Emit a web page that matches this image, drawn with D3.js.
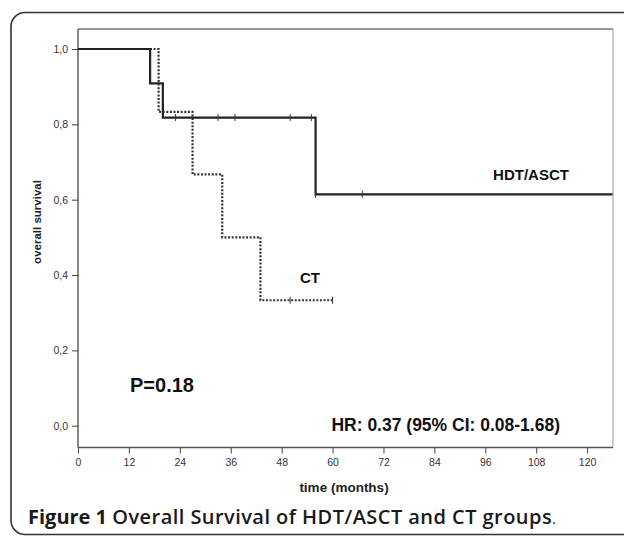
<!DOCTYPE html>
<html>
<head>
<meta charset="utf-8">
<script src="https://cdn.jsdelivr.net/npm/d3@7"></script>
<style>
  body { margin: 0; background: #fff; }
  svg { display: block; }
  .tick text { font-family: "Liberation Sans", Arial, sans-serif; font-size: 10.5px; fill: #333; }
  .tick line { stroke: #444; }
</style>
</head>
<body>
<div id="chart"></div>
<script>
// KM step points (time in months, survival)
var hdtTimes = [0, 17, 20, 56, 126];
var hdtSurv  = [1, 0.909, 0.818, 0.614, 0.614];
var hdtCensor = [23, 33, 37, 50, 55, 56, 67];

var ctTimes = [0, 19, 27, 34, 43, 60];
var ctSurv  = [1, 0.833, 0.667, 0.5, 0.333, 0.333];
var ctCensor = [50, 60];

var xTicks = [0, 12, 24, 36, 48, 60, 72, 84, 96, 108, 120];
var yTicks = [0, 0.2, 0.4, 0.6, 0.8, 1.0];

var W = 624, H = 536;
var frame = {left: 78, top: 29, right: 613, bottom: 447.5};

var svg = d3.select("#chart").append("svg")
    .attr("width", W)
    .attr("height", H);

// outer rounded box
svg.append("rect")
    .attr("x", 11).attr("y", 12.5)
    .attr("width", 660).attr("height", 522)
    .attr("rx", 14).attr("ry", 14)
    .attr("fill", "none")
    .attr("stroke", "#333")
    .attr("stroke-width", 1.6);

var x = d3.scaleLinear()
    .domain([0, 126.1])
    .range([frame.left, frame.right]);

var y = d3.scaleLinear()
    .domain([0, 1])
    .range([425.7, 49]);

// frame
svg.append("line")
    .attr("x1", frame.left).attr("x2", frame.right)
    .attr("y1", frame.top).attr("y2", frame.top)
    .attr("stroke", "#333").attr("stroke-width", 1.2);
svg.append("line")
    .attr("x1", frame.right).attr("x2", frame.right)
    .attr("y1", frame.top).attr("y2", frame.bottom)
    .attr("stroke", "#aaa").attr("stroke-width", 1.2);
svg.append("line")
    .attr("x1", frame.left).attr("x2", frame.left)
    .attr("y1", frame.top).attr("y2", frame.bottom)
    .attr("stroke", "#555").attr("stroke-width", 1.4);
svg.append("line")
    .attr("x1", frame.left).attr("x2", frame.right)
    .attr("y1", frame.bottom).attr("y2", frame.bottom)
    .attr("stroke", "#555").attr("stroke-width", 1.4);

// axes
var xAxis = svg.append("g")
    .attr("transform", "translate(0," + frame.bottom + ")")
    .call(d3.axisBottom(x).tickValues(xTicks).tickSize(6).tickSizeOuter(0).tickPadding(5));
xAxis.select(".domain").remove();

var yAxis = svg.append("g")
    .attr("transform", "translate(" + frame.left + ",0)")
    .call(d3.axisLeft(y).tickValues(yTicks).tickSize(6).tickSizeOuter(0).tickPadding(4)
      .tickFormat(function(d){ return d.toFixed(1).replace(".", ","); }));
yAxis.select(".domain").remove();

// axis titles
svg.append("text")
    .attr("x", 344).attr("y", 492)
    .attr("text-anchor", "middle")
    .style("font-family", "Liberation Sans, Arial, sans-serif")
    .style("font-weight", "bold").style("font-size", "13.5px")
    .attr("fill", "#222")
    .text("time (months)");

svg.append("text")
    .attr("transform", "translate(41,222) rotate(-90)")
    .attr("text-anchor", "middle")
    .style("font-family", "Liberation Sans, Arial, sans-serif")
    .style("font-weight", "bold").style("font-size", "11.5px")
    .attr("fill", "#222")
    .text("overall survival");

// curves
var line = d3.line()
    .x(function(d){ return x(d[0]); })
    .y(function(d){ return y(d[1]); })
    .curve(d3.curveStepAfter);

var hdtData = hdtTimes.map(function(t, i){ return [t, hdtSurv[i]]; });
var ctData = ctTimes.map(function(t, i){ return [t, ctSurv[i]]; });

function survAt(times, surv, t){
  var s = surv[0];
  times.forEach(function(tt, i){ if (tt <= t) s = surv[i]; });
  return s;
}

svg.append("path")
    .datum(ctData)
    .attr("d", line)
    .attr("fill", "none")
    .attr("stroke", "#333")
    .attr("stroke-width", 2.2)
    .attr("stroke-dasharray", "2,1.6");

svg.append("path")
    .datum(hdtData)
    .attr("d", line)
    .attr("fill", "none")
    .attr("stroke", "#222")
    .attr("stroke-width", 2.2);

// censor marks
svg.selectAll(".cens-hdt")
    .data(hdtCensor)
  .enter().append("line")
    .attr("class", "cens-hdt")
    .attr("x1", function(d){ return x(d); }).attr("x2", function(d){ return x(d); })
    .attr("y1", function(d){ return y(survAt(hdtTimes, hdtSurv, d)) - 3.5; })
    .attr("y2", function(d){ return y(survAt(hdtTimes, hdtSurv, d)) + 3.5; })
    .attr("stroke", "#333").attr("stroke-width", 1);

svg.selectAll(".cens-ct")
    .data(ctCensor)
  .enter().append("line")
    .attr("class", "cens-ct")
    .attr("x1", function(d){ return x(d); }).attr("x2", function(d){ return x(d); })
    .attr("y1", function(d){ return y(survAt(ctTimes, ctSurv, d)) - 3.5; })
    .attr("y2", function(d){ return y(survAt(ctTimes, ctSurv, d)) + 3.5; })
    .attr("stroke", "#333").attr("stroke-width", 1);

// annotations
var boldTxt = function(sel){
  return sel.style("font-family", "Liberation Sans, Arial, sans-serif")
    .style("font-weight", "bold").attr("fill", "#111");
};

svg.append("text").call(boldTxt)
    .attr("x", 531).attr("y", 179.5)
    .attr("text-anchor", "middle")
    .style("font-size", "15px")
    .text("HDT/ASCT");

svg.append("text").call(boldTxt)
    .attr("x", 310).attr("y", 283)
    .attr("text-anchor", "middle")
    .style("font-size", "15px")
    .text("CT");

svg.append("text").call(boldTxt)
    .attr("x", 130).attr("y", 392)
    .style("font-size", "20px")
    .text("P=0.18");

svg.append("text").call(boldTxt)
    .attr("x", 560).attr("y", 431)
    .attr("text-anchor", "end")
    .style("font-size", "17.5px")
    .text("HR: 0.37 (95% CI: 0.08-1.68)");

// caption
var cap = svg.append("text")
    .attr("x", 28).attr("y", 524)
    .style("font-family", "Open Sans, sans-serif")
    .style("font-size", "20px")
    .attr("fill", "#1a1a1a");
cap.append("tspan").style("font-weight", "bold").text("Figure 1 ");
cap.append("tspan").style("font-weight", "600").style("letter-spacing", "0.45px")
    .text("Overall Survival of HDT/ASCT and CT groups");
cap.append("tspan").style("font-size", "15px").text(".");
</script>
</body>
</html>
